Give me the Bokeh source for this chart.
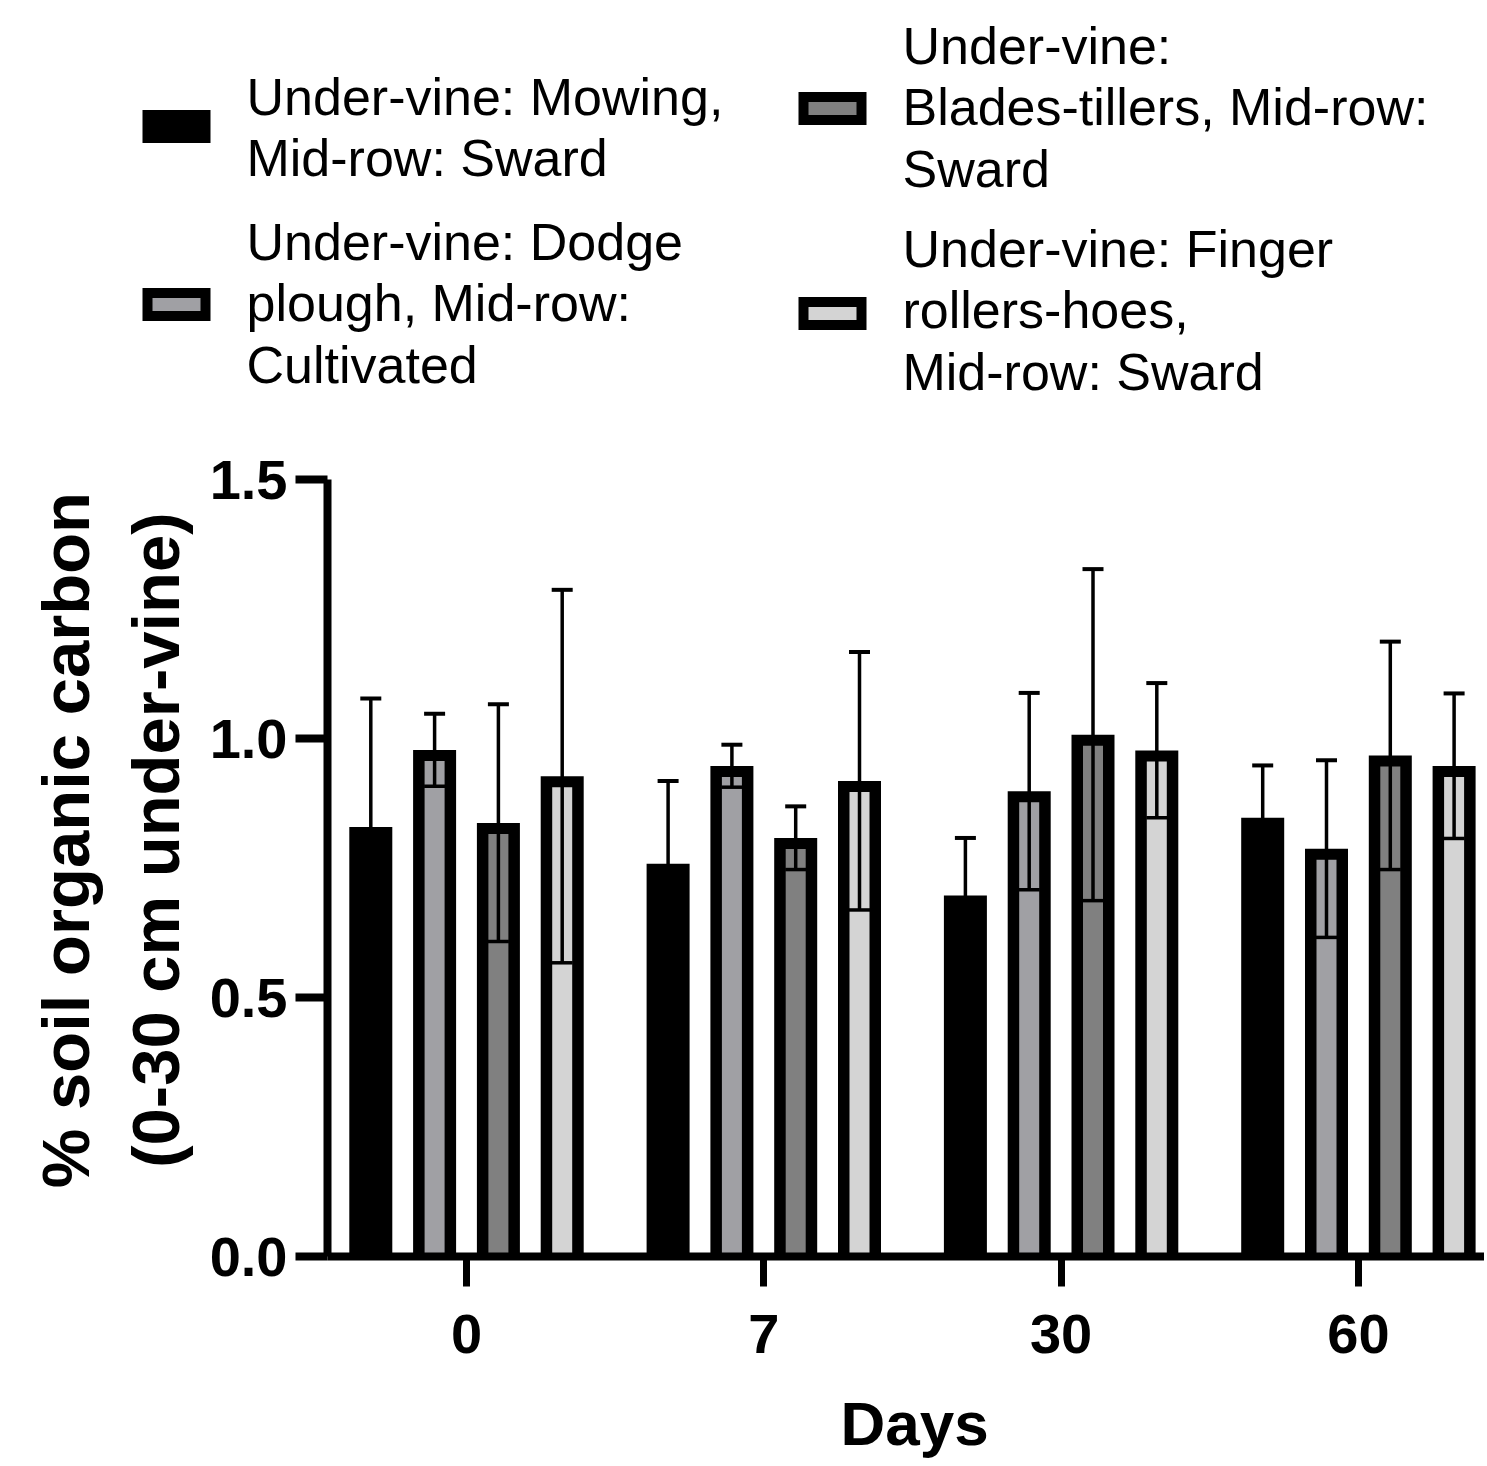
from bokeh.plotting import figure
from bokeh.layouts import column
from bokeh.models import Range1d, FixedTicker, NumeralTickFormatter
from bokeh.embed import file_html
from bokeh.resources import INLINE
from bokeh.core.properties import value

# ---------------- data ----------------
days = ["0", "7", "30", "60"]
treatments = [
    "Under-vine: Mowing,\nMid-row: Sward",
    "Under-vine: Dodge\nplough, Mid-row:\nCultivated",
    "Under-vine:\nBlades-tillers, Mid-row:\nSward",
    "Under-vine: Finger\nrollers-hoes,\nMid-row: Sward",
]
colors = ["#000000", "#a0a0a4", "#808080", "#d4d4d4"]

mowing = [0.829, 0.758, 0.697, 0.847]
mowing_err = [0.248, 0.160, 0.111, 0.101]
dodge = [0.978, 0.947, 0.898, 0.787]
dodge_err = [0.070, 0.041, 0.190, 0.171]
blades = [0.837, 0.808, 1.007, 0.967]
blades_err = [0.229, 0.061, 0.320, 0.220]
finger = [0.927, 0.918, 0.977, 0.947]
finger_err = [0.360, 0.249, 0.130, 0.140]

series = [(mowing, mowing_err), (dodge, dodge_err), (blades, blades_err), (finger, finger_err)]

FONT = "Liberation Sans"

# ---------------- layout constants (pixels) ----------------
W, H = 1484, 1464
LH = 410                      # legend strip height
FRAME_LEFT, FRAME_TOP, FRAME_BOTTOM_Y = 327, 479, 1256
PX_GROUP = 297.3
GROUP0_PX = 466
Y_END = 1.5
px_per_unit = (FRAME_BOTTOM_Y - FRAME_TOP) / Y_END

# ---------------- legend figure (pixel coordinates) ----------------
lp = figure(width=W, height=LH, x_range=Range1d(0, W), y_range=Range1d(LH, 0),
            output_backend="svg", toolbar_location=None, min_border=0,
            x_axis_location=None, y_axis_location=None)
lp.frame_align = False
lp.grid.visible = False
lp.outline_line_color = None

sw_cx = [176, 176, 832, 832]
sw_cy = [126, 304, 108, 313]
tx_x = [246, 246, 902, 902]
tx_y = [127, 303, 107, 310]
lp.rect(x=sw_cx, y=sw_cy, width=68, height=33, fill_color="black", line_color=None)
lp.rect(x=sw_cx, y=sw_cy, width=48, height=13, fill_color=colors, line_color=None)
lp.text(x=tx_x, y=tx_y, text=treatments, text_font=value(FONT), text_font_size="52px",
        text_baseline="middle", text_align="left", text_line_height=1.06, text_color="black")

# ---------------- chart figure ----------------
CH = H - LH
top_border = FRAME_TOP - LH
x0 = (FRAME_LEFT - GROUP0_PX) / PX_GROUP
x1 = (W - GROUP0_PX) / PX_GROUP

p = figure(width=W, height=CH, x_range=Range1d(x0, x1), y_range=Range1d(0, Y_END),
           output_backend="svg", toolbar_location=None,
           min_border_left=FRAME_LEFT, min_border_right=0,
           min_border_top=top_border, min_border_bottom=H - FRAME_BOTTOM_Y)
p.frame_align = False
p.grid.visible = False
p.outline_line_color = None

bar_w = 43 / PX_GROUP
bx = 11.5 / PX_GROUP
by = 11 / px_per_unit
step = 63.8 / PX_GROUP

groups = list(range(len(days)))
for k, (vals, errs) in enumerate(series):
    xs = [g + (k - 1.5) * step for g in groups]
    p.vbar(x=xs, top=vals, width=bar_w, fill_color="black", line_color=None)
    p.vbar(x=xs, top=[v - by for v in vals], bottom=0, width=bar_w - 2 * bx,
           fill_color=colors[k], line_color=None)

for k, (vals, errs) in enumerate(series):
    xs = [g + (k - 1.5) * step for g in groups]
    up = [v + e for v, e in zip(vals, errs)]
    lo = [v - e for v, e in zip(vals, errs)]
    p.segment(x0=xs, y0=lo, x1=xs, y1=up, line_width=3.5, line_color="black")
    p.scatter(x=xs, y=up, marker="dash", size=21, line_width=4, line_color="black")
    p.scatter(x=xs, y=lo, marker="dash", size=21, line_width=3.5, line_color="black")

for ax in (p.xaxis[0], p.yaxis[0]):
    ax.axis_line_width = 8
    ax.axis_line_color = "black"
    ax.major_tick_in = 0
    ax.minor_tick_out = 0
    ax.minor_tick_in = 0
    ax.major_label_text_font = FONT
    ax.major_label_text_font_style = "bold"
    ax.major_label_text_font_size = "56px"
    ax.major_label_text_color = "black"
    ax.axis_label_text_font = FONT
    ax.axis_label_text_font_style = "bold"
    ax.axis_label_text_color = "black"
    ax.major_tick_line_color = "black"

p.xaxis.ticker = FixedTicker(ticks=groups)
p.xaxis.major_label_overrides = {g: d for g, d in zip(groups, days)}
p.xaxis.major_tick_out = 30
p.xaxis.major_tick_line_width = 7
p.xaxis.major_label_standoff = 28
p.xaxis.axis_label = "\u00a0Days"
p.xaxis.axis_label_text_font_size = "62px"
p.xaxis.axis_label_standoff = 33

p.yaxis.ticker = FixedTicker(ticks=[0, 0.5, 1.0, 1.5])
p.yaxis.formatter = NumeralTickFormatter(format="0.0")
p.yaxis.major_tick_out = 32
p.yaxis.major_tick_line_width = 8
p.yaxis.major_label_standoff = 8
p.yaxis.axis_label = "\u00a0\u00a0\u00a0% soil organic carbon\n\u00a0\u00a0\u00a0(0-30 cm under-vine)"
p.yaxis.axis_label_text_font_size = "67px"
p.yaxis.axis_label_standoff = 14

layout = column(lp, p, spacing=0)
open("out.html", "w").write(file_html(layout, INLINE))
